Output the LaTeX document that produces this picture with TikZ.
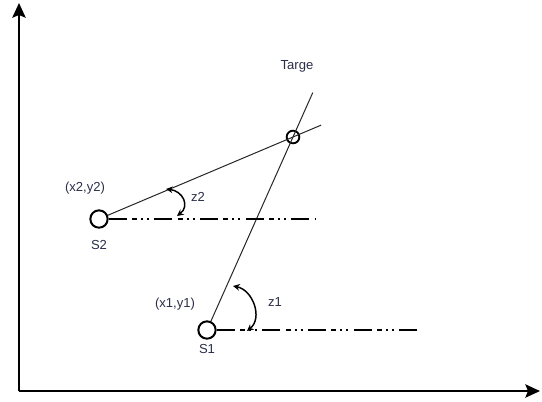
\documentclass[tikz,border=0pt]{standalone}
\usepackage{fontspec}
\setmainfont{Liberation Sans}
\usetikzlibrary{calc}
\usetikzlibrary{arrows.meta}
\definecolor{labelcol}{RGB}{42,46,72}

\begin{document}
\begin{tikzpicture}[x=0.75pt, y=-0.75pt,
    station/.style={circle, draw, line width=1.5pt, minimum size=13pt, inner sep=0pt},
    target/.style={circle, draw, line width=1.4pt, minimum size=9.5pt, inner sep=0pt},
    lbl/.style={text=labelcol, font=\fontsize{9.8}{11}\selectfont, inner sep=1pt},
    ray/.style={line width=0.75pt, draw=black!85},
    axis/.style={line width=1.5pt, -{Stealth[length=11pt, width=10pt, inset=2pt]}},
    refline/.style={line width=1.3pt, dash pattern=on 13.5pt off 4pt on 3.75pt off 3pt on 1.5pt off 3pt on 1.5pt off 4pt},
    anglearr/.style={line width=1.1pt, {Stealth[length=5pt, width=5pt]}-{Stealth[length=5pt, width=5pt]}},
]
    \useasboundingbox (0,0) rectangle (542,401);

    % 定义关键坐标
    \coordinate (O) at (19, 391);                   % 原点
    \coordinate (Ytip) at (19, 3);                  % 纵轴端点
    \coordinate (Xtip) at (540, 391);               % 横轴端点
    \node[station] (S1) at (207, 330) {};           % 站点 1
    \node[station] (S2) at (99, 219) {};            % 站点 2
    \node[target] (T) at (293, 137) {};             % 目标
    % 绘图辅助坐标
    \coordinate (S1_far) at ($(S1)!1.23!(T)$);      % S1T 延长线
    \coordinate (S2_far) at ($(S2)!1.145!(T)$);     % S2T 延长线
    \coordinate (S1_ref) at (418, 330);
    \coordinate (S2_ref) at (316, 219);

    % 画坐标轴
    \draw[axis] (O) -- (Ytip);
    \draw[axis] (O) -- (Xtip);
    % 连线 S1T, S2T
    \draw[ray] (S1) -- (S1_far);
    \draw[ray] (S2) -- (S2_far);
    % 水平参考线
    \draw[refline] (S1) -- (S1_ref);
    \draw[refline] (S2) -- (S2_ref);
    % 角 z1, z2
    \draw[anglearr] (233, 286) .. controls (253, 290) and (263, 318) .. (247, 331);
    \draw[anglearr] (166, 189) .. controls (183, 191) and (190, 206) .. (177, 216);
    % 标注
    \node[lbl] (T_lbl) at (297, 66) {Targe};
    \node[lbl] (S2_pos) at (85, 188) {(x2,y2)};
    \node[lbl] (S2_lbl) at (99, 245) {S2};
    \node[lbl] (z2_lbl) at (198, 197) {z2};
    \node[lbl] (S1_pos) at (175, 304) {(x1,y1)};
    \node[lbl] (S1_lbl) at (207, 349) {S1};
    \node[lbl] (z1_lbl) at (275, 302) {z1};

\end{tikzpicture}
\end{document}
